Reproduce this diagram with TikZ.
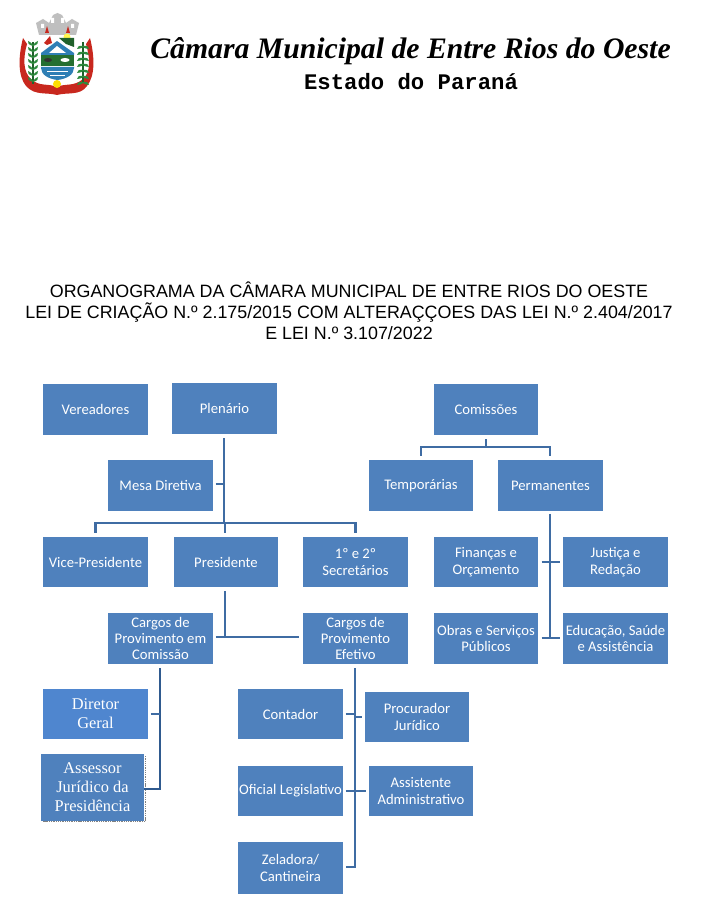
\documentclass[tikz,border=0pt]{standalone}
\usepackage{fontspec}
\setmainfont{Carlito}
\newfontfamily\timesf{Liberation Serif}
\newfontfamily\arialf{Liberation Sans}
\newfontfamily\courf{Liberation Mono}
\usetikzlibrary{calc}
\definecolor{boxblue}{HTML}{4F81BD}
\definecolor{lightblue}{HTML}{4F86CF}
\definecolor{linkblue}{HTML}{3F6CA3}
\definecolor{darklink}{HTML}{2F5A8F}
\definecolor{logored}{HTML}{C8281E}
\definecolor{logogreen}{HTML}{2E8B3D}
\definecolor{logosky}{HTML}{2F7FB5}
\tikzset{
  box/.style={fill=boxblue,draw=none,text=white,align=center,inner sep=0pt,
    font=\fontsize{11}{12.3}\selectfont},
  boxserif/.style={box,font=\timesf\fontsize{12.3}{14.3}\selectfont},
  link/.style={draw=linkblue,line width=2pt},
  strong/.style={draw=darklink,line width=2.2pt},
  heading/.style={inner sep=0pt,font=\arialf\fontsize{13.4}{15.7}\selectfont,align=center},
  leaf/.style={fill=logogreen,draw=none},
}
% \bx[style]{name}{x1}{y1}{x2}{y2}{text}
\newcommand{\bx}[7][box]{%
  \node[#1,minimum width={(#5-#3)*0.75pt},minimum height={(#6-#4)*0.75pt}] (#2) at ({(#3+#5)/2},{(#4+#6)/2}) {#7};}
\begin{document}
\begin{tikzpicture}[x=0.75pt,y=-0.75pt]
\useasboundingbox (0,0) rectangle (707,906);
\fill[white] (0,0) rectangle (707,906);

% ---- coat of arms ----
\begin{scope}
  % ribbon
  \fill[logored] (23,38) .. controls (18,58) and (18,76) .. (26,86)
     .. controls (35,96) and (46,92) .. (57,95) .. controls (68,92) and (80,96) .. (87,86)
     .. controls (95,76) and (95,58) .. (90,38) -- (86,44)
     .. controls (90,58) and (91,72) .. (83,79) .. controls (74,87) and (65,83) .. (57,87)
     .. controls (48,83) and (39,87) .. (31,79) .. controls (23,72) and (23,58) .. (27,44) -- cycle;
  % crown
  \fill[gray!50] (36,23) -- (39,35) -- (76,35) -- (79,23) -- (72,19) -- (66,23) -- (62,15) -- (57.5,13) -- (53,15) -- (49,23) -- (43,19) -- cycle;
  \fill[white] (41,24) rectangle (44,28) (51,18) rectangle (54,23) (61,18) rectangle (64,23) (71,24) rectangle (74,28);
  \fill[logored] (45,33) -- (47,26) -- (49,33) -- cycle (66,33) -- (68,26) -- (70,33) -- cycle;
  % shield
  \fill[white] (40,36) -- (75,36) -- (75,68) .. controls (75,76) and (66,80) .. (57.5,81) .. controls (49,80) and (40,76) .. (40,68) -- cycle;
  % landscape
  \fill[yellow!70!white] (67,37) circle (3.5);
  \fill[logored] (44,43) -- (50,36) -- (52,43) -- (47,45) -- cycle;
  \fill[logogreen!70!black] (59,38) -- (74,38) -- (74,47) -- (66,44) -- cycle;
  \fill[logosky] (41,53) -- (57,41) -- (74,53) -- (74,55) -- (41,55) -- cycle;
  \fill[white] (49,53) -- (57,46) -- (66,53) -- cycle;
  \fill[logogreen!80!black] (41,55) rectangle (74,66);
  \fill[black!80] (48,60) ellipse (4 and 2);
  \fill[white] (65,60) ellipse (4.5 and 2);
  \fill[logosky] (41,67) -- (74,67) -- (74,68) .. controls (74,75) and (66,79) .. (57.5,80) .. controls (49,79) and (41,75) .. (41,68) -- cycle;
  \draw[white,line width=0.5pt] (47,71) -- (68,71) (50,75) -- (65,75);
  % plants
  \draw[logogreen!70!black,line width=1pt] (33,42) -- (33,84);
  \draw[logogreen!70!black,line width=1pt] (83,42) -- (83,82);
  \foreach \q in {46,52,...,82} {
    \fill[leaf] (33,\q) .. controls (29,\q-1) and (27,\q-3) .. (28,\q-5) .. controls (30,\q-4) and (32,\q-3) .. (33,\q-1) -- cycle;
    \fill[leaf] (33,\q) .. controls (37,\q-1) and (39,\q-3) .. (38,\q-5) .. controls (36,\q-4) and (34,\q-3) .. (33,\q-1) -- cycle;
    \fill[leaf] (83,\q) .. controls (79,\q-1) and (77,\q+1) .. (77,\q+3) .. controls (80,\q+3) and (82,\q+2) .. (83,\q+1) -- cycle;
    \fill[leaf] (83,\q) .. controls (87,\q-1) and (89,\q+1) .. (89,\q+3) .. controls (86,\q+3) and (84,\q+2) .. (83,\q+1) -- cycle;
  }
  % flower
  \fill[yellow!80!orange] (57,84) circle (4);
\end{scope}

% ---- page head ----
\node[inner sep=0pt,anchor=base] (head) at (410.5,58.5) {\timesf\bfseries\itshape\fontsize{22.3}{25}\selectfont Câmara Municipal de Entre Rios do Oeste};
\node[inner sep=0pt,anchor=base] (state) at (411,89.5) {\courf\bfseries\fontsize{16.7}{19}\selectfont Estado do Paraná};

\node[heading] (title) at (349,311) {ORGANOGRAMA DA CÂMARA MUNICIPAL DE ENTRE RIOS DO OESTE\\LEI DE CRIAÇÃO N.º 2.175/2015 COM ALTERAÇÇOES DAS LEI N.º 2.404/2017\\E LEI N.º 3.107/2022};

% ---- boxes ----
\bx{vereadores}{43}{384}{148}{435}{Vereadores}
\bx{plenario}{172}{383}{277}{434}{Plenário}
\bx{comissoes}{434}{384}{538}{435}{Comissões}
\bx{mesa}{108}{460}{213}{511}{Mesa Diretiva}
\bx{temporarias}{369}{460}{473}{511}{Temporárias}
\bx{permanentes}{498}{460}{603}{511}{Permanentes}
\bx{vice}{43}{537}{148}{587}{Vice-Presidente}
\bx{presidente}{174}{537}{278}{587}{Presidente}
\bx{secretarios}{303}{537}{408}{587}{1º e 2º\\Secretários}
\bx{financas}{434}{537}{538}{587}{Finanças e\\Orçamento}
\bx{justica}{563}{537}{668}{587}{Justiça e\\Redação}
\bx{cargoscom}{108}{613}{213}{664}{Cargos de\\Provimento em\\Comissão}
\bx{cargosef}{303}{613}{408}{664}{Cargos de\\Provimento\\Efetivo}
\bx{obras}{434}{613}{538}{664}{Obras e Serviços\\Públicos}
\bx{educacao}{563}{613}{668}{664}{Educação, Saúde\\e Assistência}
\bx[boxserif,fill=lightblue]{diretor}{43}{689}{148}{739}{Diretor\\Geral}
\draw[gray,line width=1pt,dash pattern=on 1pt off 0.7pt] (145.5,756) -- (145.5,821.5) -- (43,821.5);
\bx[boxserif]{assessor}{41}{754}{144}{821}{Assessor\\Jurídico da\\Presidência}
\bx{contador}{238}{689}{343}{739}{Contador}
\bx{procurador}{365}{692}{469}{742}{Procurador\\Jurídico}
\bx{oficial}{238}{766}{343}{816}{Oficial Legislativo}
\bx{assistente}{369}{766}{473}{816}{Assistente\\Administrativo}
\bx{zeladora}{238}{842}{343}{894}{Zeladora/\\Cantineira}

% ---- junctions ----
\coordinate (jtop) at (224,523);
\coordinate (jmesa) at (224,484);
\coordinate (jcargos) at (225,637);
\coordinate (jcom) at (486,447);
\coordinate (jperm) at (550,447);
\coordinate (jfin) at (550,562);
\coordinate (jobr) at (550,638);
\coordinate (jdir) at (160,714);
\coordinate (jass) at (160,789);
\coordinate (jcon) at (355,714);
\coordinate (jpro) at (355,717);
\coordinate (jofi) at (355,791);
\coordinate (jzel) at (355,867);

% ---- connectors ----
\draw[link] ([yshift=-3pt]jtop |- plenario.south) -- (jtop);
\draw[link] ([xshift=2pt]mesa.east |- jmesa) -- (jmesa);
\draw[link] ([yshift=3pt]vice.north) |- (jtop) -| ([yshift=3pt]secretarios.north);
\draw[link] ([yshift=3pt]jcargos |- presidente.north) |- (jtop);
\draw[link] ([yshift=-3pt]jcargos |- presidente.south) -- (jcargos);
\draw[link] ([xshift=2pt]cargoscom.east |- jcargos) -- ([xshift=-2.5pt]cargosef.west |- jcargos);
\draw[link] ([yshift=-3pt]comissoes.south) |- (jcom);
\draw[link] ([yshift=3pt]temporarias.north) |- (jcom) -- (jperm) -- ([yshift=3pt]jperm |- permanentes.north);
\draw[link] ([yshift=-2pt]jobr |- permanentes.south) -- (jobr);
\draw[link] ([xshift=2.5pt]financas.east |- jfin) -- ([xshift=-2pt]justica.west |- jfin);
\draw[link] ([xshift=2.5pt]obras.east |- jobr) -- ([xshift=-2pt]educacao.west |- jobr);
\draw[strong] ([yshift=-3pt]jass |- cargoscom.south) -- (jass) -- (assessor.east |- jass);
\draw[link] ([xshift=2pt]diretor.east |- jdir) -- (jdir);
\draw[link] ([yshift=-3pt]jzel |- cargosef.south) -- (jzel) -- ([xshift=2pt]zeladora.east |- jzel);
\draw[link] ([xshift=2pt]contador.east |- jcon) -- (jcon);
\draw[link] (jpro) -- ([xshift=-2pt]procurador.west |- jpro);
\draw[link] ([xshift=2pt]oficial.east |- jofi) -- ([xshift=-2pt]assistente.west |- jofi);
\end{tikzpicture}
\end{document}
